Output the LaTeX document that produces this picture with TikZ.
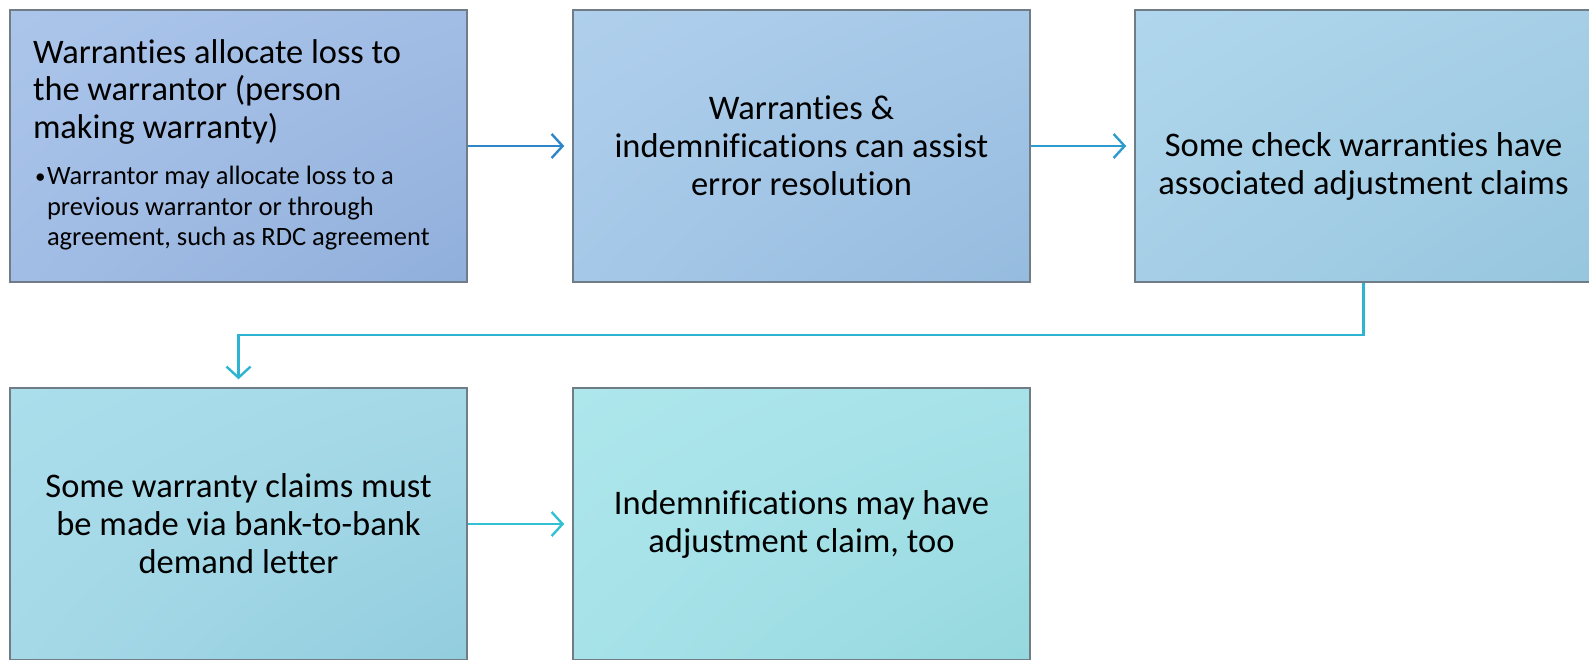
\documentclass[tikz,border=0pt]{standalone}
\usepackage{fontspec}
\setmainfont{Carlito}[Ligatures=NoCommon]
\usetikzlibrary{arrows.meta,shadings}

\definecolor{edgegray}{HTML}{717D86}
\definecolor{flowA}{HTML}{2E86C8}
\definecolor{flowB}{HTML}{2E9BCF}
\definecolor{flowC}{HTML}{2DB4D3}
\definecolor{flowD}{HTML}{33C0D2}
% box fills: light corner / mid tone / dark corner
\definecolor{aL}{HTML}{ABC5EA}\definecolor{aM}{HTML}{A2BDE5}\definecolor{aD}{HTML}{90AFDB}
\definecolor{bL}{HTML}{AFCFEC}\definecolor{bM}{HTML}{A6C8E8}\definecolor{bD}{HTML}{95BBDE}
\definecolor{cL}{HTML}{AFD6EC}\definecolor{cM}{HTML}{A6CFE7}\definecolor{cD}{HTML}{96C6DE}
\definecolor{dL}{HTML}{ABDEEB}\definecolor{dM}{HTML}{A6D9E8}\definecolor{dD}{HTML}{92CDDE}
\definecolor{eL}{HTML}{ADE7EC}\definecolor{eM}{HTML}{A7E2E9}\definecolor{eD}{HTML}{95D8DE}

\tikzset{
  stepbox/.style={draw=edgegray, line width=1.5pt, minimum width=457pt,
    minimum height=272pt, inner sep=0pt, align=center,
    font=\fontsize{34.5}{38}\selectfont},
  tint/.style n args={3}{upper left=#1, upper right=#2, lower left=#2, lower right=#3},
  flow/.style={line width=2.4pt, -{Straight Barb[length=11pt, width=24pt, line width=2.4pt]}, shorten >=8pt}
}

\begin{document}
\begin{tikzpicture}[x=1pt, y=-1pt]
\clip (0,0) rectangle (1589,659);

% top row
\node[stepbox, tint={aL}{aM}{aD}] (b1) at (238.5,146) {%
  \begin{minipage}{395pt}\raggedright
  \fontsize{34.4}{37.5}\selectfont
  \begin{tabular}{@{}l@{}}Warranties allocate loss to\\the warrantor (person\\making warranty)\end{tabular}\par
  \vspace{13pt}
  \fontsize{26.5}{30.5}\selectfont
  \begin{tabular}{@{}l@{}l@{}}\hspace*{2pt}\makebox[12pt][l]{\raisebox{1.5pt}{\fontsize{21}{21}\selectfont •}}&Warrantor may allocate loss to a\\
   &previous warrantor or through\\
   &agreement, such as RDC agreement\end{tabular}\par
  \end{minipage}\hspace*{16pt}};
\node[stepbox, tint={bL}{bM}{bD}] (b2) at (801.5,146) {Warranties \&\\indemnifications can assist\\error resolution};
\node[stepbox, tint={cL}{cM}{cD}] (b3) at (1363.5,146) {\strut\\Some check warranties have\\associated adjustment claims};

% bottom row
\node[stepbox, tint={dL}{dM}{dD}] (b4) at (238.5,524) {Some warranty claims must\\be made via bank-to-bank\\demand letter};
\node[stepbox, tint={eL}{eM}{eD}] (b5) at (801.5,524) {Indemnifications may have\\adjustment claim, too};

% connectors
\draw[flow, draw=flowA] (b1.east) -- (b2.west);
\draw[flow, draw=flowB] (b2.east) -- (b3.west);
\coordinate (bend) at (0,335);
\draw[flow, draw=flowC] (b3.south) |- (bend -| b1.north) -- (b4.north);
\draw[flow, draw=flowD] (b4.east) -- (b5.west);
\end{tikzpicture}
\end{document}
